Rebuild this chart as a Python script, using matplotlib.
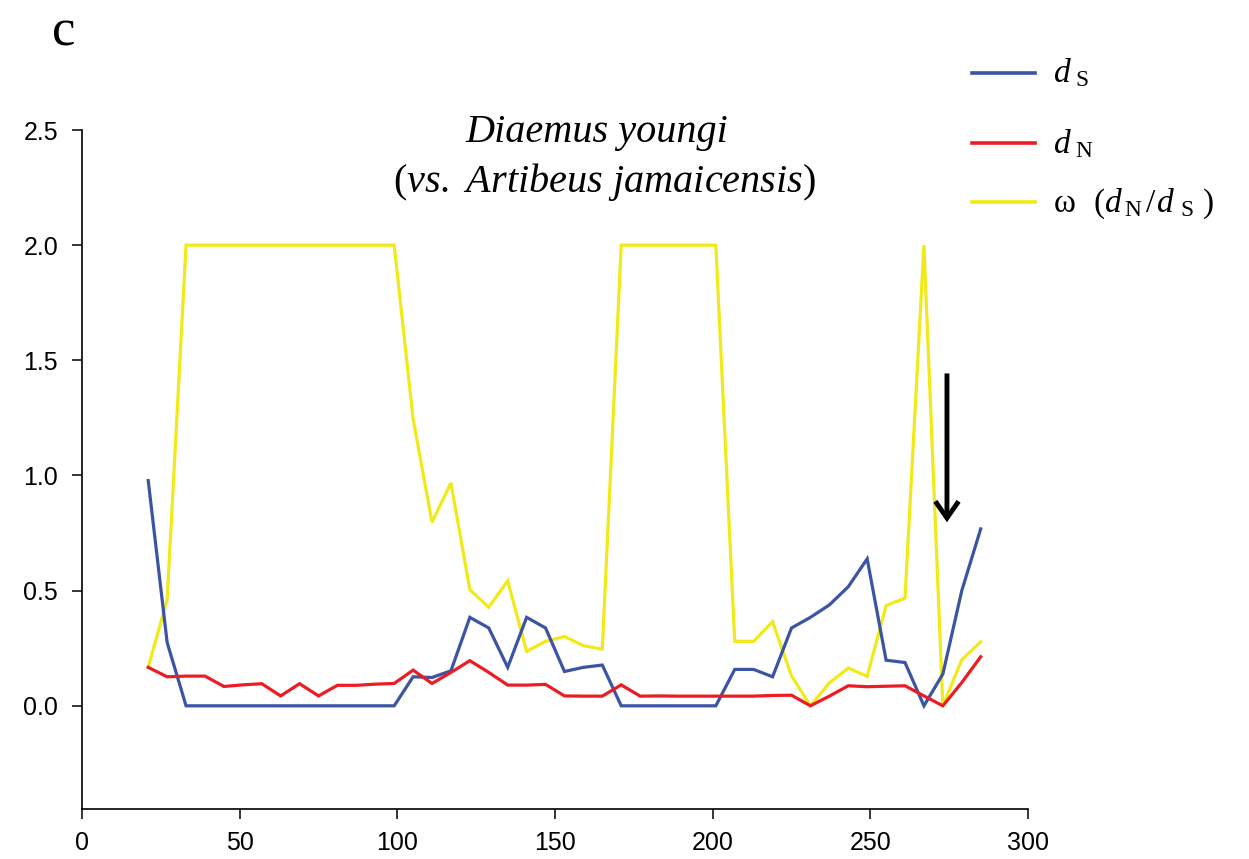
import matplotlib
matplotlib.use("Agg")
import matplotlib.pyplot as plt
from matplotlib.lines import Line2D

plt.rcParams['mathtext.fontset'] = 'custom'
plt.rcParams['mathtext.rm'] = 'Liberation Serif'
plt.rcParams['mathtext.it'] = 'Liberation Serif:italic'
plt.rcParams['font.family'] = ['Liberation Sans', 'DejaVu Sans']

# codon position (window midpoint)
positions = [21, 27, 33, 39, 45, 51, 57, 63, 69, 75, 81, 87, 93, 99, 105,
             111, 117, 123, 129, 135, 141, 147, 153, 159, 165, 171, 177, 183,
             189, 195, 201, 207, 213, 219, 225, 231, 237, 243, 249, 255, 261,
             267, 273, 279, 285]

dS = [0.978, 0.275, 0, 0, 0, 0, 0, 0, 0, 0, 0, 0, 0, 0,
      0.126, 0.123, 0.152, 0.384, 0.338, 0.167, 0.384, 0.338, 0.149, 0.167, 0.177,
      0, 0, 0, 0, 0, 0,
      0.158, 0.158, 0.126, 0.338, 0.384, 0.438, 0.517, 0.638, 0.198, 0.188,
      0, 0.138, 0.5, 0.768]

dN = [0.167, 0.126, 0.129, 0.129, 0.084, 0.091, 0.096, 0.043, 0.096, 0.043,
      0.089, 0.089, 0.094, 0.097,
      0.155, 0.097, 0.145, 0.196, 0.145, 0.090, 0.090, 0.093, 0.043, 0.042, 0.042,
      0.091, 0.042, 0.043, 0.042, 0.042, 0.042, 0.042, 0.042, 0.045, 0.046,
      0.0, 0.042, 0.087, 0.083, 0.085, 0.087, 0.043, 0.0, 0.101, 0.213]

omega = [0.167, 0.46, 2, 2, 2, 2, 2, 2, 2, 2, 2, 2, 2, 2,
         1.246, 0.797, 0.968, 0.504, 0.428, 0.543, 0.236, 0.28, 0.301, 0.261, 0.246,
         2, 2, 2, 2, 2, 2,
         0.28, 0.28, 0.365, 0.13, 0.0, 0.099, 0.164, 0.128, 0.435, 0.468,
         2.0, 0.0, 0.2, 0.278]

xticks = [0, 50, 100, 150, 200, 250, 300]
yticks = [0.0, 0.5, 1.0, 1.5, 2.0, 2.5]
ytick_labels = ['0.0', '0.5', '1.0', '1.5', '2.0', '2.5']

arrow_x = 274.3
arrow_from = 1.443
arrow_to = 0.797

C_BLUE = '#3b54a4'
C_RED = '#ed1c24'
C_YEL = '#f2e918'

W, H = 1249, 859
fig = plt.figure(figsize=(W / 100, H / 100), dpi=100)
ax = fig.add_axes([82 / W, 1 - 809 / H, (1028 - 82) / W, (809 - 130) / H])

lw = 2.3
ax.plot(positions, dS, color=C_BLUE, lw=lw, solid_joinstyle='miter', zorder=3)
ax.plot(positions, omega, color=C_YEL, lw=lw, solid_joinstyle='miter', zorder=2)
ax.plot(positions, dN, color=C_RED, lw=lw, solid_joinstyle='miter', zorder=4)

ax.set_xlim(0, 300)
ax.set_ylim(-0.448, 2.5)
ax.set_xticks(xticks)
ax.set_yticks(yticks)
ax.set_yticklabels(ytick_labels)
for s in ['top', 'right']:
    ax.spines[s].set_visible(False)
for s in ['left', 'bottom']:
    ax.spines[s].set_linewidth(1.2)
ax.tick_params(axis='both', direction='out', length=7.2, width=1.1,
               labelsize=18, colors='black')
ax.tick_params(axis='x', pad=9)
ax.tick_params(axis='y', pad=10)

ax.annotate('', xy=(arrow_x, arrow_to), xytext=(arrow_x, arrow_from),
            arrowprops=dict(arrowstyle='->, head_length=0.6, head_width=0.42',
                            lw=3.5, color='black', shrinkA=0, shrinkB=0,
                            mutation_scale=20, joinstyle='miter',
                            capstyle='butt'),
            zorder=6)

# title
fig.text(597 / W, 1 - 142 / H, 'Diaemus youngi', ha='center', va='baseline',
         fontsize=29, family='Liberation Serif', style='italic')
fig.text(604 / W, 1 - 192 / H,
         r'($\mathit{vs.}$ $\mathit{Artibeus}$ $\mathit{jamaicensis}$)',
         ha='center', va='baseline', fontsize=29, family='Liberation Serif')

# panel label
fig.text(52 / W, 1 - 46 / H, 'c', ha='left', va='baseline', fontsize=38,
         family='Liberation Serif')

# legend
leg_rows = [(73, 82, r'$d\hspace{0.25}_{\mathrm{S}}$', C_BLUE),
            (143, 153, r'$d\hspace{0.25}_{\mathrm{N}}$', C_RED),
            (202, 212, r'$\mathrm{ω}\hspace{0.75}(d\hspace{0.15}_{\mathrm{N}}'
                       r'\hspace{0.12}/\hspace{0.08}d\hspace{0.3}_{\mathrm{S}}'
                       r'\hspace{0.35})$',
             C_YEL)]
for yl, yb, lab, col in leg_rows:
    fig.add_artist(Line2D([972 / W, 1035 / W], [1 - yl / H, 1 - yl / H],
                          color=col, lw=2.6, transform=fig.transFigure))
    fig.text(1053 / W, 1 - yb / H, lab, ha='left', va='baseline',
             fontsize=24, family='Liberation Serif')

fig.savefig('out.png', dpi=100)
